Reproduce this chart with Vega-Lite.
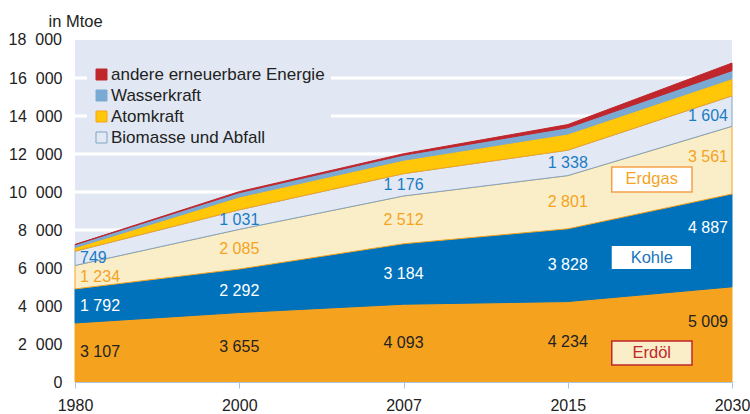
{
  "$schema": "https://vega.github.io/schema/vega-lite/v6.json",
  "width": 657,
  "height": 342,
  "autosize": {"type": "none"},
  "padding": {"left": 75, "top": 40, "right": 18, "bottom": 32},
  "background": "white",
  "config": {
    "font": "Liberation Sans",
    "view": {"stroke": null},
    "axisY": {
      "grid": false,
      "labelOverlap": false,
      "labelFontSize": 16,
      "labelColor": "#222222",
      "labelPadding": 13,
      "domain": false,
      "ticks": false,
      "titleAngle": 0,
      "titleAlign": "left",
      "titleBaseline": "alphabetic",
      "titleX": -27,
      "titleY": -14,
      "titleFontSize": 16.5,
      "titleFontWeight": "normal",
      "titleColor": "#222222"
    }
  },
  "data": {
    "values": [
      {"year": "1980", "cat": "Erdöl", "order": 1, "value": 3107},
      {"year": "1980", "cat": "Kohle", "order": 2, "value": 1792},
      {"year": "1980", "cat": "Erdgas", "order": 3, "value": 1234},
      {"year": "1980", "cat": "Biomasse und Abfall", "order": 4, "value": 749},
      {"year": "1980", "cat": "Atomkraft", "order": 5, "value": 190},
      {"year": "1980", "cat": "Wasserkraft", "order": 6, "value": 150},
      {"year": "1980", "cat": "andere erneuerbare Energie", "order": 7, "value": 15},
      {"year": "2000", "cat": "Erdöl", "order": 1, "value": 3655},
      {"year": "2000", "cat": "Kohle", "order": 2, "value": 2292},
      {"year": "2000", "cat": "Erdgas", "order": 3, "value": 2085},
      {"year": "2000", "cat": "Biomasse und Abfall", "order": 4, "value": 1031},
      {"year": "2000", "cat": "Atomkraft", "order": 5, "value": 676},
      {"year": "2000", "cat": "Wasserkraft", "order": 6, "value": 225},
      {"year": "2000", "cat": "andere erneuerbare Energie", "order": 7, "value": 55},
      {"year": "2007", "cat": "Erdöl", "order": 1, "value": 4093},
      {"year": "2007", "cat": "Kohle", "order": 2, "value": 3184},
      {"year": "2007", "cat": "Erdgas", "order": 3, "value": 2512},
      {"year": "2007", "cat": "Biomasse und Abfall", "order": 4, "value": 1176},
      {"year": "2007", "cat": "Atomkraft", "order": 5, "value": 709},
      {"year": "2007", "cat": "Wasserkraft", "order": 6, "value": 265},
      {"year": "2007", "cat": "andere erneuerbare Energie", "order": 7, "value": 74},
      {"year": "2015", "cat": "Erdöl", "order": 1, "value": 4234},
      {"year": "2015", "cat": "Kohle", "order": 2, "value": 3828},
      {"year": "2015", "cat": "Erdgas", "order": 3, "value": 2801},
      {"year": "2015", "cat": "Biomasse und Abfall", "order": 4, "value": 1338},
      {"year": "2015", "cat": "Atomkraft", "order": 5, "value": 854},
      {"year": "2015", "cat": "Wasserkraft", "order": 6, "value": 327},
      {"year": "2015", "cat": "andere erneuerbare Energie", "order": 7, "value": 165},
      {"year": "2030", "cat": "Erdöl", "order": 1, "value": 5009},
      {"year": "2030", "cat": "Kohle", "order": 2, "value": 4887},
      {"year": "2030", "cat": "Erdgas", "order": 3, "value": 3561},
      {"year": "2030", "cat": "Biomasse und Abfall", "order": 4, "value": 1604},
      {"year": "2030", "cat": "Atomkraft", "order": 5, "value": 901},
      {"year": "2030", "cat": "Wasserkraft", "order": 6, "value": 425},
      {"year": "2030", "cat": "andere erneuerbare Energie", "order": 7, "value": 400}
    ]
  },
  "encoding": {
    "x": {
      "field": "year",
      "type": "ordinal",
      "scale": {"type": "point", "padding": 0},
      "axis": {
        "title": null,
        "labelAngle": 0,
        "labelFontSize": 16,
        "labelColor": "#222222",
        "labelPadding": 9,
        "domainColor": "#a8c4e0",
        "tickColor": "#a8c4e0",
        "tickSize": 6,
        "grid": false
      }
    }
  },
  "layer": [
    {
      "data": {"values": [{}]},
      "mark": {"type": "rect", "fill": "#e1e8f3"},
      "encoding": {
        "x": {"datum": "1980", "type": "ordinal"},
        "x2": {"datum": "2030"},
        "y": {"datum": 0, "type": "quantitative"},
        "y2": {"datum": 18000}
      }
    },
    {
      "data": {"values": [{"g": 2000}, {"g": 4000}, {"g": 6000}, {"g": 8000}, {"g": 10000}, {"g": 12000}, {"g": 14000}, {"g": 16000}]},
      "transform": [
        {"calculate": "datum.g - 70", "as": "ga"},
        {"calculate": "datum.g + 70", "as": "gb"}
      ],
      "mark": {"type": "rect", "fill": "#ffffff", "stroke": "#ffffff", "strokeWidth": 0.5, "opacity": 1},
      "encoding": {
        "x": {"datum": "1980", "type": "ordinal"},
        "x2": {"datum": "2030"},
        "y": {"field": "ga", "type": "quantitative"},
        "y2": {"field": "gb"}
      }
    },
    {
      "mark": {"type": "area", "strokeWidth": 1, "fillOpacity": 1},
      "encoding": {
        "y": {
          "field": "value",
          "type": "quantitative",
          "stack": "zero",
          "title": "in Mtoe",
          "scale": {"domain": [0, 18000], "nice": false},
          "axis": {
            "values": [0, 2000, 4000, 6000, 8000, 10000, 12000, 14000, 16000],
            "labelOverlap": false,
            "labelExpr": "replace(format(datum.value, ','), ',', '\u2007')"
          }
        },
        "fill": {
          "field": "cat",
          "type": "nominal",
          "scale": {
            "domain": ["Erdöl", "Kohle", "Erdgas", "Biomasse und Abfall", "Atomkraft", "Wasserkraft", "andere erneuerbare Energie"],
            "range": ["#f5a31f", "#0072bc", "#faeec8", "#e3e9f4", "#ffc708", "#7aaad4", "#c0272d"]
          },
          "legend": {
            "values": ["andere erneuerbare Energie", "Wasserkraft", "Atomkraft", "Biomasse und Abfall"],
            "orient": "none",
            "legendX": 12,
            "legendY": 20,
            "title": null,
            "symbolType": "square",
            "symbolSize": 121,
            "symbolStrokeWidth": 1,
            "symbolOpacity": 1,
            "labelFontSize": 17,
            "labelLimit": 400,
            "labelColor": "#222222",
            "labelOffset": 1,
            "rowPadding": 3,
            "fillColor": "#e1e8f3",
            "padding": 6
          }
        },
        "stroke": {
          "field": "cat",
          "type": "nominal",
          "scale": {
            "domain": ["Erdöl", "Kohle", "Erdgas", "Biomasse und Abfall", "Atomkraft", "Wasserkraft", "andere erneuerbare Energie"],
            "range": ["#f5a31f", "#0070b8", "#f5a31f", "#7fa3c4", "#f5a31f", "#7aaad4", "#c0272d"]
          },
          "legend": {
            "values": ["andere erneuerbare Energie", "Wasserkraft", "Atomkraft", "Biomasse und Abfall"],
            "orient": "none",
            "legendX": 12,
            "legendY": 20,
            "title": null,
            "symbolType": "square",
            "symbolSize": 121,
            "symbolStrokeWidth": 1,
            "symbolOpacity": 1,
            "labelFontSize": 17,
            "labelLimit": 400,
            "labelColor": "#222222",
            "labelOffset": 1,
            "rowPadding": 3,
            "fillColor": "#e1e8f3",
            "padding": 6
          }
        },
        "order": {"field": "order", "type": "quantitative"}
      }
    },
    {
      "transform": [
        {"stack": "value", "groupby": ["year"], "sort": [{"field": "order", "order": "ascending"}], "as": ["v0", "v1"]},
        {"calculate": "(datum.v0 + datum.v1) / 2", "as": "mid"},
        {"calculate": "replace(format(datum.value, ','), ',', ' ')", "as": "label"},
        {"filter": "datum.order <= 4"}
      ],
      "layer": [
        {
          "transform": [{"filter": "datum.year == '1980'"}],
          "mark": {"type": "text", "align": "left", "dx": 5, "baseline": "middle", "fontSize": 16}
        },
        {
          "transform": [{"filter": "datum.year != '1980' && datum.year != '2030'"}],
          "mark": {"type": "text", "align": "center", "baseline": "middle", "fontSize": 16}
        },
        {
          "transform": [{"filter": "datum.year == '2030' && datum.order <= 2"}],
          "mark": {"type": "text", "align": "right", "dx": -4, "dy": -12, "baseline": "middle", "fontSize": 16}
        },
        {
          "transform": [{"filter": "datum.year == '2030' && datum.order == 3"}],
          "mark": {"type": "text", "align": "right", "dx": -4, "dy": -3, "baseline": "middle", "fontSize": 16}
        },
        {
          "transform": [{"filter": "datum.year == '2030' && datum.order == 4"}],
          "mark": {"type": "text", "align": "right", "dx": -4, "dy": 5, "baseline": "middle", "fontSize": 16}
        }
      ],
      "encoding": {
        "y": {
          "field": "mid",
          "type": "quantitative",
          "title": "in Mtoe",
          "axis": {
            "values": [0, 2000, 4000, 6000, 8000, 10000, 12000, 14000, 16000],
            "labelOverlap": false,
            "labelExpr": "replace(format(datum.value, ','), ',', '\u2007')"
          }
        },
        "text": {"field": "label"},
        "color": {
          "field": "cat",
          "type": "nominal",
          "scale": {
            "domain": ["Erdöl", "Kohle", "Erdgas", "Biomasse und Abfall"],
            "range": ["#222222", "#ffffff", "#f5a31f", "#1a7cc4"]
          },
          "legend": null
        }
      }
    },
    {
      "data": {"values": [{}]},
      "mark": {"type": "text", "text": "18\u2007000", "color": "#222222", "fontSize": 16, "align": "right", "baseline": "middle", "dx": -13},
      "encoding": {
        "x": {"datum": "1980", "type": "ordinal"},
        "y": {"datum": 18000, "type": "quantitative"}
      }
    },
    {
      "data": {"values": [{}]},
      "mark": {"type": "rect", "fill": "#ffffff", "stroke": "#f5a04a", "strokeWidth": 1.5, "xOffset": 44, "x2Offset": -40},
      "encoding": {
        "x": {"datum": "2015", "type": "ordinal"},
        "x2": {"datum": "2030"},
        "y": {"datum": 11320, "type": "quantitative"},
        "y2": {"datum": 10000}
      }
    },
    {
      "data": {"values": [{}]},
      "mark": {"type": "text", "text": "Erdgas", "color": "#f5a31f", "fontSize": 16.5, "align": "center", "baseline": "middle", "dx": 84},
      "encoding": {
        "x": {"datum": "2015", "type": "ordinal"},
        "y": {"datum": 10660, "type": "quantitative"}
      }
    },
    {
      "data": {"values": [{}]},
      "mark": {"type": "rect", "fill": "#ffffff", "xOffset": 44, "x2Offset": -41},
      "encoding": {
        "x": {"datum": "2015", "type": "ordinal"},
        "x2": {"datum": "2030"},
        "y": {"datum": 7160, "type": "quantitative"},
        "y2": {"datum": 5950}
      }
    },
    {
      "data": {"values": [{}]},
      "mark": {"type": "text", "text": "Kohle", "color": "#1a75bb", "fontSize": 16.5, "align": "center", "baseline": "middle", "dx": 84},
      "encoding": {
        "x": {"datum": "2015", "type": "ordinal"},
        "y": {"datum": 6550, "type": "quantitative"}
      }
    },
    {
      "data": {"values": [{}]},
      "mark": {"type": "rect", "fill": "#faeec8", "stroke": "#c0272d", "strokeWidth": 1.5, "xOffset": 44, "x2Offset": -40},
      "encoding": {
        "x": {"datum": "2015", "type": "ordinal"},
        "x2": {"datum": "2030"},
        "y": {"datum": 2160, "type": "quantitative"},
        "y2": {"datum": 900}
      }
    },
    {
      "data": {"values": [{}]},
      "mark": {"type": "text", "text": "Erdöl", "color": "#c0272d", "fontSize": 16.5, "align": "center", "baseline": "middle", "dx": 84},
      "encoding": {
        "x": {"datum": "2015", "type": "ordinal"},
        "y": {"datum": 1530, "type": "quantitative"}
      }
    }
  ]
}
